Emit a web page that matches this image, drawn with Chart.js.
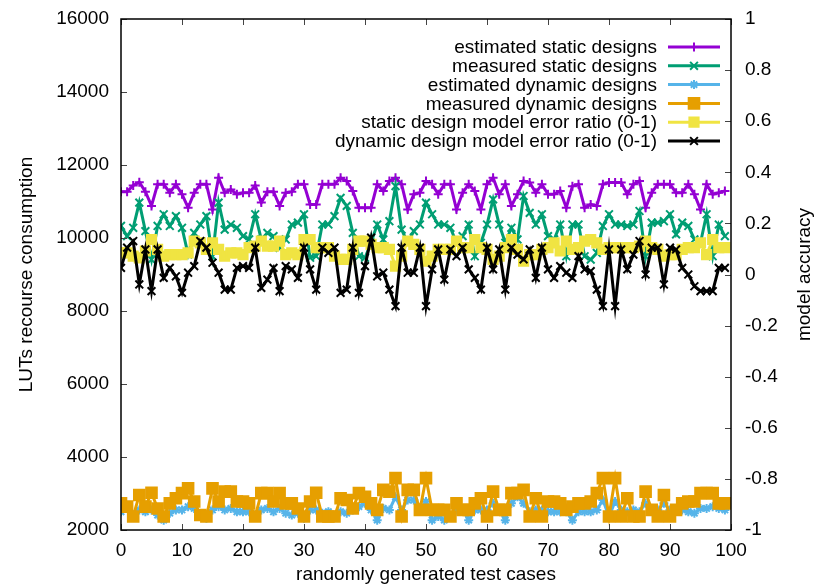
<!DOCTYPE html>
<html>
<head>
<meta charset="utf-8">
<script src="https://cdn.jsdelivr.net/npm/chart.js@4/dist/chart.umd.min.js"></script>
<style>
html, body { margin: 0; padding: 0; background: #fff; }
#wrap { width: 820px; height: 587px; }
</style>
</head>
<body>
<div id="wrap"><canvas id="myChart" width="820" height="587"></canvas></div>
<script>
// test case index (x axis)
const testCases = [0,1,2,3,4,5,6,7,8,9,10,11,12,13,14,15,16,17,18,19,
  20,21,22,23,24,25,26,27,28,29,30,31,32,33,34,35,36,37,38,39,
  40,41,42,43,44,45,46,47,48,49,50,51,52,53,54,55,56,57,58,59,
  60,61,62,63,64,65,66,67,68,69,70,71,72,73,74,75,76,77,78,79,
  80,81,82,83,84,85,86,87,88,89,90,91,92,93,94,95,96,97,98,99];

// LUTs (left axis)
const estStatic = [11270,11270,11440,11530,11270,10880,11470,11470,11240,11470,11200,10830,11240,11470,11470,10780,11650,11240,11330,11200,
  11240,11240,11440,10970,11270,11270,10880,11240,11270,11470,11470,10920,10920,11470,11470,
  11470,11650,11560,11290,10830,10830,10830,11470,11290,11560,11650,11470,10780,11200,11240,11560,11470,11200,11470,11470,10780,11240,11470,11290,10780,11470,11650,11200,11470,10880,11200,11560,
  11520,11240,11470,11200,11200,11290,10830,11420,11470,10830,10920,10880,11470,11520,11520,11520,11200,11470,11560,10830,11240,11470,11470,11470,11240,11240,11470,11200,10780,11470,11200,11240,11290];
const measStatic = [10330,10050,10280,10970,10190,9410,10330,10650,10330,10600,10280,9550,10140,10370,10600,9500,10970,10230,10370,10280,
  10050,9960,10650,9960,10140,10050,9730,9960,10370,10420,10650,9460,9500,10370,10370,
  10600,11100,10880,10140,9500,9460,9870,10370,9960,10460,11420,10230,9870,10190,10370,10970,10650,10370,10370,10280,9870,10050,10370,9500,9870,10370,11060,10370,9870,10280,9960,11150,
  10690,10370,10650,10050,9960,10370,9500,10370,10370,9500,9410,9590,10330,10650,10370,10370,10330,10370,10740,9500,10420,10420,10460,10650,10100,10420,10330,9960,9870,10650,9500,10370,10050];
const estDynamic = [2500,2590,2410,2550,2500,2550,2410,2270,2460,2550,2550,2640,2590,2410,2320,2550,2640,2550,2590,2500,
  2500,2500,2410,2550,2590,2500,2590,2460,2410,2460,2320,2550,2550,2460,2500,
  2370,2500,2460,2550,2640,2730,2550,2270,2590,2550,2910,2550,2820,2820,2550,2780,2270,2370,2270,2370,2550,2550,2270,2550,2550,2550,2730,2550,2270,2730,2910,2730,
  2500,2550,2550,2500,2500,2500,2500,2270,2500,2500,2500,2550,2820,2370,2780,2550,2500,2550,2500,2730,2550,2550,2730,2550,2550,2550,2500,2460,2590,2590,2640,2590,2550];
const measDynamic = [2730,2640,2370,2960,2640,3020,2590,2370,2730,2870,3010,3140,2780,2410,2370,3140,2780,3050,3050,2780,
  2780,2730,2370,3010,3010,2780,3010,2730,2730,2590,2370,2780,3020,2370,2370,
  2370,2870,2820,2590,3010,2910,2730,2550,3100,3050,3420,2370,3100,3100,2550,3420,2550,2550,2550,2370,2730,2550,2550,2730,2870,2370,3050,2550,2550,3010,3010,3100,
  2370,2870,2370,2780,2780,2730,2550,2640,2730,2730,2780,3010,3420,2370,3420,2370,2870,2370,2370,3050,2550,2370,2960,2370,2550,2730,2780,2780,3010,3010,3010,2730,2730];

// error ratios (right axis)
const staticErr = [0.085,0.085,0.072,0.065,0.092,0.137,0.098,0.072,0.078,0.078,0.078,0.085,0.131,0.124,0.098,0.124,0.098,0.072,0.085,0.085,
  0.078,0.105,0.111,0.131,0.111,0.111,0.131,0.078,0.085,0.078,0.137,0.137,0.105,0.105,0.105,
  0.072,0.059,0.059,0.098,0.131,0.131,0.118,0.105,0.105,0.098,0.033,0.072,0.131,0.118,0.098,0.052,0.072,0.098,0.098,0.098,0.131,0.105,0.105,0.137,0.105,0.098,0.059,0.072,0.105,0.137,0.098,0.052,
  0.078,0.078,0.098,0.105,0.124,0.092,0.131,0.098,0.105,0.131,0.137,0.124,0.098,0.105,0.105,0.105,0.105,0.105,0.111,0.131,0.105,0.098,0.072,0.078,0.078,0.098,0.105,0.105,0.124,0.078,0.137,0.105,0.105];
const dynamicErr = [0.026,0.105,0.131,-0.039,0.098,-0.065,0.098,-0.013,0.026,-0.007,-0.072,0.007,0.033,0.131,0.105,0.046,0.007,-0.059,-0.059,0.026,
  0.033,0.026,0.105,-0.052,-0.020,0.026,-0.065,0.033,0.020,-0.013,0.105,0.020,-0.059,0.105,0.085,
  0.105,-0.072,-0.059,0.105,-0.072,0.033,0.144,-0.007,0.007,-0.059,-0.124,0.105,0.007,0.007,0.105,-0.124,0.020,0.098,-0.020,0.098,0.072,0.105,0.020,-0.013,-0.059,0.105,0.020,0.098,-0.059,0.105,0.078,0.059,
  0.098,-0.013,0.105,0.020,-0.013,0.033,0.007,-0.013,0.072,0.020,0.013,-0.059,-0.124,0.098,-0.124,0.098,0.020,0.078,0.131,0.000,0.105,0.105,-0.039,0.105,0.098,0.026,0.000,-0.046,-0.065,-0.065,-0.065,0.026,0.026];

const xTicks = [0,10,20,30,40,50,60,70,80,90,100];
const leftTicks = [2000,4000,6000,8000,10000,12000,14000,16000];
const rightTicks = [-1,-0.8,-0.6,-0.4,-0.2,0,0.2,0.4,0.6,0.8,1];

const FONT = "'Liberation Sans', Arial, Helvetica, sans-serif";
const FSIZE = 19;

function pts(arr) {
    return arr.map(function(v, i) { return {x: testCases[i], y: v}; });
}

function series(label, arr, color, style, radius, axis, order) {
    return {
        label: label,
        data: pts(arr),
        yAxisID: axis,
        borderColor: color,
        backgroundColor: color,
        pointBackgroundColor: color,
        pointBorderColor: color,
        pointStyle: style,
        pointRadius: radius,
        pointBorderWidth: 2,
        borderWidth: 3,
        tension: 0,
        order: order
    };
}

// gnuplot style frame, inward ticks, key and y2 label
const gnuplotBits = {
    id: 'gnuplotBits',
    afterDatasetsDraw(chart) {
        const ctx = chart.ctx;
        const a = chart.chartArea;
        const sx = chart.scales.x, sy = chart.scales.y, sy2 = chart.scales.y2;
        ctx.save();
        ctx.strokeStyle = '#444';
        ctx.lineWidth = 1;
        ctx.beginPath();
        sx.ticks.forEach(function(t) {
            const p = Math.round(sx.getPixelForValue(t.value)) + 0.5;
            ctx.moveTo(p, a.bottom); ctx.lineTo(p, a.bottom - 6);
            ctx.moveTo(p, a.top); ctx.lineTo(p, a.top + 6);
        });
        sy.ticks.forEach(function(t) {
            const p = Math.round(sy.getPixelForValue(t.value)) + 0.5;
            ctx.moveTo(a.left, p); ctx.lineTo(a.left + 6, p);
        });
        sy2.ticks.forEach(function(t) {
            const p = Math.round(sy2.getPixelForValue(t.value)) + 0.5;
            ctx.moveTo(a.right, p); ctx.lineTo(a.right - 6, p);
        });
        ctx.stroke();
        ctx.strokeStyle = '#000';
        ctx.lineWidth = 1.5;
        ctx.strokeRect(a.left, a.top, a.right - a.left, a.bottom - a.top);

        // key
        ctx.font = FSIZE + 'px ' + FONT;
        ctx.textAlign = 'right';
        ctx.textBaseline = 'middle';
        chart.data.datasets.forEach(function(ds, i) {
            const y = 47 + i * 18.8;
            ctx.fillStyle = '#000';
            ctx.fillText(ds.label, 657, y + 1);
            ctx.strokeStyle = ds.borderColor;
            ctx.lineWidth = 3;
            ctx.beginPath();
            ctx.moveTo(668, y); ctx.lineTo(720, y);
            ctx.stroke();
            ctx.fillStyle = ds.borderColor;
            ctx.lineWidth = 2;
            if (Chart.helpers && Chart.helpers.drawPoint) {
                Chart.helpers.drawPoint(ctx, {pointStyle: ds.pointStyle, radius: ds.pointRadius, borderWidth: 2, rotation: 0}, 694, y);
            }
        });

        // y2 label, reads bottom to top like gnuplot
        ctx.translate(805, (a.top + a.bottom) / 2);
        ctx.rotate(-Math.PI / 2);
        ctx.textAlign = 'center';
        ctx.fillStyle = '#000';
        ctx.fillText('model accuracy', 0, 0);
        ctx.restore();
    }
};

const ctx = document.getElementById('myChart').getContext('2d');
const chart = new Chart(ctx, {
    type: 'line',
    data: {
        datasets: [
            series('estimated static designs', estStatic, '#9400d3', 'cross', 4.5, 'y', 6),
            series('measured static designs', measStatic, '#009e73', 'crossRot', 5.5, 'y', 5),
            series('estimated dynamic designs', estDynamic, '#56b4e9', 'star', 4.5, 'y', 4),
            series('measured dynamic designs', measDynamic, '#e69f00', 'rect', 7.5, 'y', 3),
            series('static design model error ratio (0-1)', staticErr, '#f0e442', 'rect', 6.5, 'y2', 2),
            series('dynamic design model error ratio (0-1)', dynamicErr, '#000000', 'crossRot', 5.5, 'y2', 1)
        ]
    },
    options: {
        responsive: false,
        devicePixelRatio: 1,
        animation: false,
        layout: { padding: { top: 19, right: 0, left: 0, bottom: 0 } },
        plugins: {
            legend: { display: false },
            tooltip: { enabled: false }
        },
        scales: {
            x: {
                type: 'linear',
                min: 0, max: 100,
                afterBuildTicks: function(s) { s.ticks = xTicks.map(function(v) { return {value: v}; }); },
                afterFit: function(s) { s.height = 57; },
                grid: { display: false },
                border: { display: false },
                ticks: { color: '#000', padding: 1, maxRotation: 0, font: { family: FONT, size: FSIZE },
                         callback: function(v) { return String(v); } },
                title: { display: true, text: 'randomly generated test cases', color: '#000',
                         padding: { top: 0, bottom: 1 }, font: { family: FONT, size: FSIZE } }
            },
            y: {
                position: 'left',
                min: 2000, max: 16000,
                afterBuildTicks: function(s) { s.ticks = leftTicks.map(function(v) { return {value: v}; }); },
                afterFit: function(s) { s.width = 121; },
                grid: { display: false },
                border: { display: false },
                ticks: { color: '#000', padding: 4, font: { family: FONT, size: FSIZE },
                         callback: function(v) { return String(v); } },
                title: { display: true, text: 'LUTs recourse consumption', color: '#000',
                         padding: { top: 15, bottom: 0 }, font: { family: FONT, size: FSIZE } }
            },
            y2: {
                position: 'right',
                min: -1, max: 1,
                afterBuildTicks: function(s) { s.ticks = rightTicks.map(function(v) { return {value: v}; }); },
                afterFit: function(s) { s.width = 89; },
                grid: { display: false },
                border: { display: false },
                ticks: { color: '#000', padding: 6, font: { family: FONT, size: FSIZE },
                         callback: function(v) { return String(Number(v.toFixed(1))); } }
            }
        }
    },
    plugins: [gnuplotBits]
});
</script>
</body>
</html>
